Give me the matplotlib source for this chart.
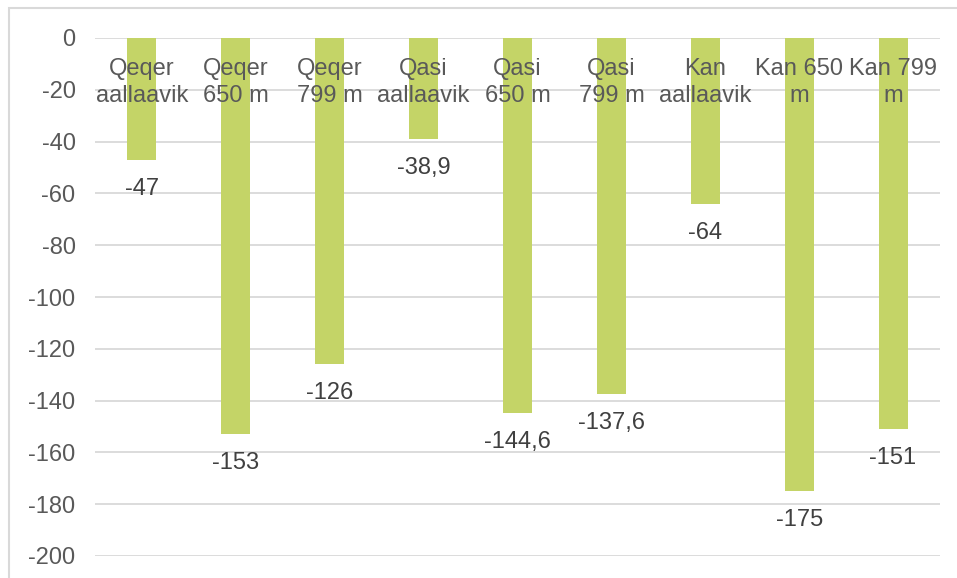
import matplotlib
matplotlib.use("Agg")
import matplotlib.pyplot as plt
from matplotlib.patches import Rectangle

categories = ["Qeqer\naallaavik", "Qeqer\n650 m", "Qeqer\n799 m",
              "Qasi\naallaavik", "Qasi\n650 m", "Qasi\n799 m",
              "Kan\naallaavik", "Kan 650\nm", "Kan 799\nm"]
values = [-47, -153, -126, -38.9, -144.6, -137.6, -64, -175, -151]
labels = ["-47", "-153", "-126", "-38,9", "-144,6", "-137,6", "-64", "-175", "-151"]
yticks = [0, -20, -40, -60, -80, -100, -120, -140, -160, -180, -200]

plt.rcParams['font.family'] = ['Liberation Sans', 'DejaVu Sans']

W, H = 957, 578
FS = 17
fig = plt.figure(figsize=(W/100, H/100), dpi=100)
ax = fig.add_axes([95/W, 1-556/H, (940-95)/W, (556-38)/H])

x = list(range(len(categories)))
ax.bar(x, values, width=0.31, color="#c4d467", zorder=2)
ax.set_xlim(-0.5, len(categories)-0.5)
ax.set_ylim(-200, 0)
ax.set_yticks(yticks)
ax.set_yticklabels([str(t) for t in yticks], fontsize=FS, color="#595959")
ax.tick_params(axis='y', length=0, pad=14)
ax.set_xticks([])
for s in ax.spines.values():
    s.set_visible(False)
ax.grid(axis='y', color="#d9d9d9", linewidth=1.3, zorder=0)
ax.set_axisbelow(True)

for xi, c in zip(x, categories):
    ax.annotate(c, (xi, 0), xytext=(0, -14.5), textcoords='offset points',
                ha='center', va='top', fontsize=FS, color="#595959",
                linespacing=1.3, zorder=3)
for xi, v, l in zip(x, values, labels):
    ax.annotate(l, (xi, v), xytext=(0, -13), textcoords='offset points',
                ha='center', va='top', fontsize=FS, color="#404040", zorder=3)

fig.patches.append(Rectangle((9/W, -0.5), 2, 1.5-8/H, transform=fig.transFigure,
                             fill=False, edgecolor="#d9d9d9", linewidth=1.5))

fig.savefig("out.png", dpi=100)
